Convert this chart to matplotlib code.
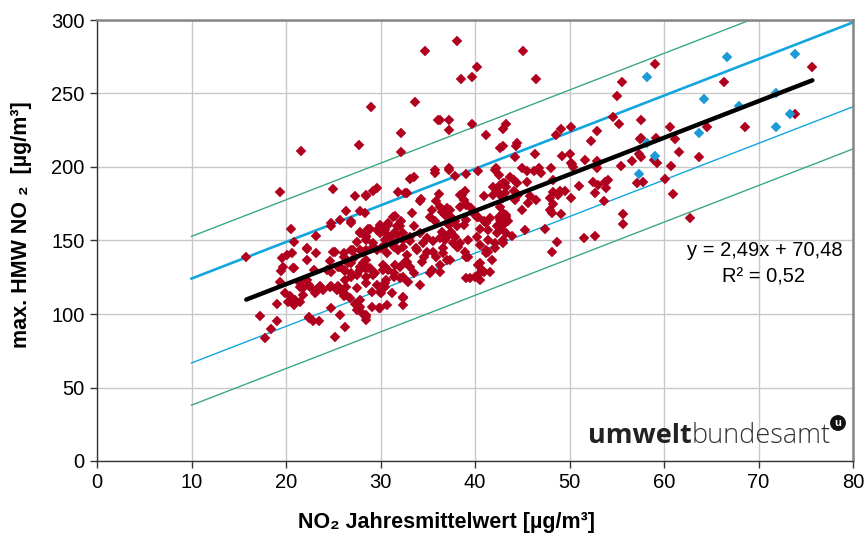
import matplotlib
matplotlib.use("Agg")
import matplotlib.pyplot as plt
import numpy as np

plt.rcParams['font.family'] = ['Liberation Sans', 'DejaVu Sans']

# ---------------- data ----------------
red_points = [
    (34.7,279),(29.0,241),(33.7,244),(36.1,232),(32.2,223),(27.7,215),(21.6,211),(32.2,210),(35.8,198),
    (38.1,286),(45.1,279),(40.2,268),(38.5,260),(39.7,261),(46.5,260),(55.6,258),(55.0,248),(54.6,234),
    (55.2,229),(36.3,232),(37.2,232),(37.2,225),(39.7,229),(41.2,222),(43.0,226),(43.3,229),(48.6,222),
    (49.1,226),(50.2,227),(52.9,224.5),(52.3,218),(42.6,212.6),(43.0,214),(44.3,214),(44.4,216),(44.2,207),
    (46.3,208.6),(49.2,207.5),(50.0,209),(50.3,202),(51.6,205),(52.9,204),(55.5,201),(56.6,204),(57.4,209),
    (57.5,219),(37.2,199),(42.2,199),(45.0,199),(46.8,199),(48.0,199),
    (59.0,270),(75.7,268),(66.3,258),(73.9,236),(57.6,232),(60.6,227.5),(64.6,227.5),(68.6,227.5),
    (57.6,219.5),(59.2,219.5),(61.2,219),(61.6,210.5),(57.6,207),(58.9,205),(59.3,203),(63.7,206.6),(60.7,201),
    (57.8,189.6),(60.1,192),(60.9,181.6),(62.8,165),
    (50.2,202.5),(50.4,200),(53.0,202.5),(52.9,199),(45.5,197.6),(46.2,197),(47.0,196),(43.7,193.5),
    (44.1,191),(44.4,189),(43.2,189),(42.6,188),(45.5,190),(48.3,191),(51.0,187),(52.5,190),(53.0,187.8),
    (53.8,190),(54.1,191),(53.9,185.5),(52.7,182),(57.1,189.3),(42.6,181),(43.0,178.7),(44.2,177.6),
    (44.1,183.5),(44.6,181),(45.8,180),(46.5,177.6),(45.6,175.3),(48.3,183),(49.0,184),(49.5,184),
    (47.9,178.7),(48.8,181),(48.3,175),(47.9,170.5),(48.2,168.5),(49.1,168),(50.2,178.7),(45.0,170.7),
    (42.6,173),(43.0,168.5),(43.3,166),(42.6,164),(43.5,163),(43.0,160.5),(42.6,158),(43.9,153),(45.3,157),
    (47.4,158),(53.6,177),(55.7,168),(55.7,161),(48.7,148.8),(48.2,142),(51.5,151.5),(52.7,153),
    (35.8,196),(37.2,198),(37.9,194),(39.1,195),(40.3,197),(42.1,198),(42.5,194.5),(33.1,192),(33.5,193.5),
    (28.5,181),(29.2,184),(29.6,186),(31.9,183),(32.6,182),(34.2,176.7),(34.3,178),(36.2,181.6),(35.9,176.7),
    (38.4,181),(38.9,183.5),(38.8,177.6),(39.1,175),(41.0,180),(41.9,186.7),(43.0,189),(42.3,184),(43.3,186.7),
    (33.3,168.5),(31.3,166),(32.2,163),(31.7,159.6),(30.8,160.5),(29.9,160.5),(28.9,158),(28.5,155),(29.6,157),
    (35.4,170.7),(36.5,169.6),(37.0,172),(35.2,166),(35.8,163),(36.8,167.3),(37.5,166),(37.9,163),(37.2,160.5),
    (38.1,159.6),(38.8,160.5),(39.1,164),(40.0,167.3),(40.3,166),(40.9,163),(41.2,161.7),(40.5,158),(41.4,157),
    (42.3,159.6),(43.3,167.3),
    (27.8,143.5),(28.5,150),(29.2,148),(29.6,143.5),(30.5,150),(31.0,152.6),(31.7,153.7),(32.4,154.9),
    (31.4,145.8),(32.4,145.8),(33.1,149.5),(33.8,144.7),(34.5,148),(34.9,142.4),(35.6,149.5),(36.3,151.5),
    (37.0,152.6),(37.7,148),(38.2,145.8),(39.1,139),(36.6,141.3),(35.9,139),(37.4,136.7),
    (28.2,134.5),(28.7,131),(29.2,126.5),(30.3,133.3),(30.8,130),(31.4,127.7),(32.1,132.2),(32.8,135.6),
    (33.1,132.2),(33.5,127.7),(32.1,124.3),(30.6,123),(30.5,118.6),(29.9,115),(31.2,114),(32.4,111.8),
    (34.2,119.7),(35.2,127.7),(36.3,128.8),(37.0,136.7),(40.3,133.3),(40.9,128.8),(39.5,124.3),(41.8,136.7),
    (42.1,144.7),(43.0,150.3),(43.3,155),(28.5,98),(29.9,104),(32.4,110.7),(32.4,106),(28.2,100),
    (40.5,127.7),(40.0,125.4),(42.1,148),(41.2,143.5),(39.1,124.3),
    (32.8,182),(38.6,181),(41.9,181),(43.2,182),(31.5,166.7),(30.8,161.7),(36.3,173),(36.7,168.5),
    (37.4,170.7),(38.4,173),(39.1,174),(39.6,171.8),(40.2,166),(41.6,165),(42.5,166),(43.2,161.7),
    (37.0,161.7),(37.5,156),(36.5,156),(29.9,155),(30.7,153.7),(31.5,156),(32.1,159.6),(33.5,159.6),
    (34.2,155),(33.1,152.6),(32.4,150.3),(31.4,148),(30.3,145.8),(34.9,151.5),(36.8,150),(37.9,152.6),
    (38.4,148),(39.3,150.3),(40.2,152.6),(40.5,147),(41.4,150.3),(42.3,155),(43.0,148),(30.7,141.3),
    (31.9,143.5),(32.8,140),(33.9,143.5),(34.6,139),(35.6,142.4),(36.6,144.7),(38.1,145.8),(38.9,142.4),
    (39.3,139),(41.4,142.4),(30.5,132.2),(31.5,133.3),(32.6,135.6),(34.4,135.6),(35.4,130),(36.3,133.3),
    (31.4,125.4),(32.4,125.4),(32.9,122),(40.5,134.5),(41.2,141.3),(41.6,128.8),(40.7,130),(40.5,123.1),
    (24.8,161.7),(25.7,164),(26.9,163),(28.7,158),(27.8,155),(28.5,152.6),(30.5,157),(22.2,144.7),
    (23.2,141.3),(25.0,142.4),(26.1,141.3),(26.9,143.5),(27.3,139),(28.2,142.4),(29.2,145.8),(30.1,144.7),
    (20.8,131),(20.6,141.3),(22.2,123),(21.5,118.6),(22.5,118.6),(23.2,116.3),(21.8,113),(24.8,128.8),
    (25.5,132.2),(26.1,130),(26.9,134.5),(26.2,123),(26.9,125.4),(27.5,126.5),(27.8,130),(28.9,131),
    (29.4,127.7),(30.3,130),(24.7,118.6),(25.4,116.3),(26.4,118.6),(27.5,117.5),(28.5,120.9),(29.6,119.7),
    (30.5,120.9),(26.8,110.7),(27.8,109.5),(29.1,115.2),(30.1,114),(30.7,106.1),(27.5,102.7),(29.1,105),
    (29.8,103.9),(22.4,98.2),(24.8,103.9),
    (25.0,185),(19.4,183),(27.3,180),(28.5,180),(26.4,170),(27.8,170),(28.4,169),(24.8,160),(26.9,162),
    (20.5,158),(27.8,156),(28.7,157),(23.2,153),(20.8,149),(28.5,153),(27.5,149),(22.2,144),(27.1,143.5),
    (28.5,143.5),(15.8,139),(20.1,140),(19.6,138),(22.2,137),(25.2,142),(24.7,136),(26.1,139),(26.6,134.5),
    (25.7,132),(26.2,129),(26.9,128),(27.8,132),(28.5,137),(28.4,131),(27.5,127),(28.5,125),(19.7,132),
    (19.5,129.5),(20.7,131),(23.0,130),(24.3,130),(19.4,122),(21.5,121),(22.4,120),(21.8,117.5),(19.9,114),
    (20.4,112),(20.9,109.5),(21.5,108.5),(20.2,108.5),(20.8,106),(23.2,115),(23.9,116),(23.6,119),(23.1,114),
    (24.8,119),(25.5,119),(25.9,115),(26.4,113),(26.1,112),(19.0,107),(27.3,107),(27.8,105),(28.5,99),
    (17.3,98.6),(19.1,95),(18.4,90),(17.8,83.5),(22.4,97),(22.9,95.5),(23.5,95.5),(25.7,99),(26.2,91),
    (25.2,84.5),(28.5,96),
]
blue_points = [
    (66.7,275),(73.9,276.6),(58.2,261),(71.9,250.6),(64.2,246),(67.9,241.5),(73.3,236),
    (63.7,223),(71.9,227.5),(58.2,216.5),(59.0,207.5),(57.4,195),
]
red_x = [p[0] for p in red_points]
red_y = [p[1] for p in red_points]
blue_x = [p[0] for p in blue_points]
blue_y = [p[1] for p in blue_points]

slope = 2.49
intercept = 70.48
r_squared = 0.52
band_inner = 28.7   # offset of blue band lines
band_outer = 57.4   # offset of green band lines
band_range = [10, 80]

x_ticks = [0, 10, 20, 30, 40, 50, 60, 70, 80]
y_ticks = [0, 50, 100, 150, 200, 250, 300]

# ---------------- figure ----------------
W, H = 866, 539
fig = plt.figure(figsize=(W/100, H/100), dpi=100)
ax = fig.add_axes([97/W, 1-461/H, (853-97)/W, (461-20)/H])

ax.set_xlim(0, 80)
ax.set_ylim(0, 300)
ax.set_xticks(x_ticks)
ax.set_yticks(y_ticks)
ax.grid(True, color='#C8C8C8', lw=1.0, zorder=0)
ax.set_axisbelow(True)

for s in ['left', 'bottom']:
    ax.spines[s].set_color('#333333')
    ax.spines[s].set_linewidth(1.0)
for s in ['top', 'right']:
    ax.spines[s].set_color('#858585')
    ax.spines[s].set_linewidth(1.8)
ax.tick_params(direction='out', length=5, width=1, color='#333333',
               labelsize=14.5, pad=4)

bx = np.array(band_range, dtype=float)
base = slope * bx + intercept
ax.plot(bx, base + band_outer, color='#3DA982', lw=1.0, zorder=2)
ax.plot(bx, base - band_outer, color='#3DA982', lw=1.0, zorder=2)
ax.plot(bx, base + band_inner, color='#12A6DE', lw=1.9, zorder=2)
ax.plot(bx, base - band_inner, color='#12A6DE', lw=1.0, zorder=2)

ax.plot(red_x, red_y, linestyle='none', marker='D', ms=5.6, mfc='#B0001E',
        mec='#B0001E', mew=0.3, zorder=3)
ax.plot(blue_x, blue_y, linestyle='none', marker='D', ms=5.6, mfc='#1C9AD6',
        mec='#1C9AD6', mew=0.3, zorder=3)

all_x = red_x + blue_x
rx = np.array([min(all_x), max(all_x)])
ax.plot(rx, slope * rx + intercept, color='black', lw=3.2, zorder=4,
        solid_capstyle='round')

ax.set_xlabel('NO₂ Jahresmittelwert [µg/m³]', fontsize=15.5, fontweight='bold')
ax.xaxis.set_label_coords((447-97)/756, (461-512)/441)
ax.set_ylabel('max. HMW NO ₂  [µg/m³]', fontsize=15.5, fontweight='bold')
ax.yaxis.set_label_coords((32-97)/756, (461-225)/441)

fig.text(765/W, 1-250/H, 'y = 2,49x + 70,48', ha='center', va='center', fontsize=14.5)
fig.text(764/W, 1-277/H, 'R² = 0,52', ha='center', va='center', fontsize=14.5)

# watermark
t1 = fig.text(588/W, 1-443/H, 'umwelt', ha='left', va='baseline', fontsize=19.5,
              fontweight='bold', color='#222222', family=['Open Sans', 'DejaVu Sans'])
fig.canvas.draw()
bb = t1.get_window_extent()
t2 = fig.text(bb.x1/W, 1-443/H, 'bundesamt', ha='left', va='baseline', fontsize=19.5,
              fontweight='light', color='#333333', family=['Open Sans', 'DejaVu Sans'])
fig.text(838/W, 1-423/H, 'u', ha='center', va='center', fontsize=8, color='white',
         fontweight='bold',
         bbox=dict(boxstyle='circle,pad=0.2', fc='#111111', ec='#111111'))

fig.savefig('out.png', dpi=100)
